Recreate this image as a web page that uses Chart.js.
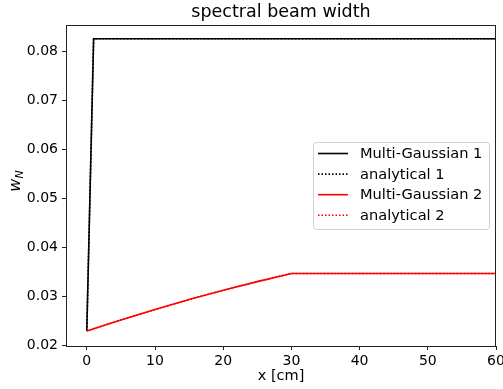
<!DOCTYPE html>
<html>
<head>
<meta charset="utf-8">
<script src="https://cdn.jsdelivr.net/npm/chart.js@4/dist/chart.umd.min.js"></script>
<style>
    html, body { margin: 0; padding: 0; background: #fff; }
    #wrap { width: 503px; height: 389px; }
</style>
</head>
<body>
<div id="wrap"><canvas id="chart" width="503" height="389"></canvas></div>
<script>
// values
const gauss1X = [0, 1, 60];
const gauss1Y = [0.0230, 0.0825, 0.0825];
const gauss2X = [0, 5, 10, 15, 20, 25, 30, 60];
const gauss2Y = [0.0230, 0.02525, 0.02738, 0.02939, 0.03128, 0.03305, 0.0347, 0.0347];
const analytic1Y = [0.0230, 0.0825, 0.0825];
const analytic2Y = [0.0230, 0.02525, 0.02738, 0.02939, 0.03128, 0.03305, 0.0347, 0.0347];

const xTicks = [0, 10, 20, 30, 40, 50, 60];
const yTicks = [0.02, 0.03, 0.04, 0.05, 0.06, 0.07, 0.08];

const FONT = 'DejaVu Sans';
Chart.defaults.font.family = FONT;
Chart.defaults.font.size = 14;
Chart.defaults.color = '#000';

const toPoints = (xs, ys) => xs.map((x, i) => ({ x, y: ys[i] }));

const framePlugin = {
    id: 'frame',
    afterDraw(chart) {
        const { ctx, chartArea: a } = chart;
        ctx.save();

        // spines
        ctx.strokeStyle = '#222';
        ctx.lineWidth = 1;
        ctx.strokeRect(a.left + 0.5, a.top + 0.5, a.right - a.left - 1, a.bottom - a.top);

        // title and axis labels
        ctx.fillStyle = '#000';
        ctx.textAlign = 'center';
        ctx.textBaseline = 'alphabetic';
        ctx.font = `17.5px "${FONT}"`;
        ctx.fillText('spectral beam width', (a.left + a.right) / 2, 17);
        ctx.font = `14.5px "${FONT}"`;
        ctx.fillText('x [cm]', (a.left + a.right) / 2, 380);

        ctx.save();
        ctx.translate(20, 181);
        ctx.rotate(-Math.PI / 2);
        ctx.textAlign = 'left';
        ctx.font = `italic 16px "${FONT}"`;
        const ww = ctx.measureText('w').width;
        ctx.font = `italic 11px "${FONT}"`;
        const nw = ctx.measureText('N').width;
        const x0 = -(ww + nw) / 2;
        ctx.font = `italic 16px "${FONT}"`;
        ctx.fillText('w', x0, 0);
        ctx.font = `italic 11px "${FONT}"`;
        ctx.fillText('N', x0 + ww, 3);
        ctx.restore();

        // legend
        const box = { x: 313, y: 142, w: 176, h: 87 };
        ctx.fillStyle = 'rgba(255,255,255,0.8)';
        ctx.strokeStyle = '#d0d0d0';
        ctx.lineWidth = 1;
        ctx.beginPath();
        ctx.roundRect(box.x + 0.5, box.y + 0.5, box.w, box.h, 3);
        ctx.fill();
        ctx.stroke();

        ctx.font = `14.6px "${FONT}"`;
        ctx.textAlign = 'left';
        ctx.textBaseline = 'middle';
        chart.data.datasets.forEach((ds, i) => {
            const y = 153.5 + i * 20.6;
            ctx.strokeStyle = ds.borderColor;
            ctx.lineWidth = ds.borderWidth;
            ctx.setLineDash(ds.borderDash || []);
            ctx.beginPath();
            ctx.moveTo(318, y);
            ctx.lineTo(348, y);
            ctx.stroke();
            ctx.setLineDash([]);
            ctx.fillStyle = '#000';
            ctx.fillText(ds.label, 360, y + 1);
        });

        ctx.restore();
    },
};

const tickStyle = {
    display: true,
    drawOnChartArea: false,
    drawTicks: true,
    tickLength: 4,
    color: '#222',
    lineWidth: 1,
};

new Chart(document.getElementById('chart').getContext('2d'), {
    type: 'line',
    data: {
        datasets: [
            {
                label: 'Multi-Gaussian 1',
                data: toPoints(gauss1X, gauss1Y),
                borderColor: '#000000',
                borderWidth: 1.6,
                order: 4,
            },
            {
                label: 'analytical 1',
                data: toPoints(gauss1X, analytic1Y),
                borderColor: '#000000',
                borderWidth: 1.6,
                borderDash: [1.5, 2],
                order: 3,
            },
            {
                label: 'Multi-Gaussian 2',
                data: toPoints(gauss2X, gauss2Y),
                borderColor: '#ff0000',
                borderWidth: 1.6,
                order: 2,
            },
            {
                label: 'analytical 2',
                data: toPoints(gauss2X, analytic2Y),
                borderColor: '#ff0000',
                borderWidth: 1.6,
                borderDash: [1.5, 2],
                order: 1,
            },
        ],
    },
    options: {
        responsive: false,
        animation: false,
        devicePixelRatio: 1,
        layout: { autoPadding: false, padding: { top: 25, right: 7, left: 0, bottom: 0 } },
        elements: { point: { radius: 0 }, line: { tension: 0, fill: false } },
        plugins: { legend: { display: false }, tooltip: { enabled: false }, title: { display: false } },
        scales: {
            x: {
                type: 'linear',
                min: -3.05,
                max: 60,
                afterFit(axis) {
                    axis.height = 43;
                    axis.paddingLeft = 0;
                    axis.paddingRight = 0;
                },
                afterBuildTicks(axis) { axis.ticks = xTicks.map((value) => ({ value })); },
                border: { display: false },
                grid: tickStyle,
                ticks: {
                    padding: 3,
                    color: '#000',
                    font: { family: FONT, size: 14 },
                    maxRotation: 0,
                    callback(value) { return String(value); },
                },
            },
            y: {
                type: 'linear',
                min: 0.01994,
                max: 0.0853,
                afterFit(axis) {
                    axis.width = 66;
                    axis.paddingTop = 0;
                    axis.paddingBottom = 0;
                },
                afterBuildTicks(axis) { axis.ticks = yTicks.map((value) => ({ value })); },
                border: { display: false },
                grid: tickStyle,
                ticks: {
                    padding: 4,
                    color: '#000',
                    font: { family: FONT, size: 14 },
                    callback(value) { return Number(value).toFixed(2); },
                },
            },
        },
    },
    plugins: [framePlugin],
});
</script>
</body>
</html>
